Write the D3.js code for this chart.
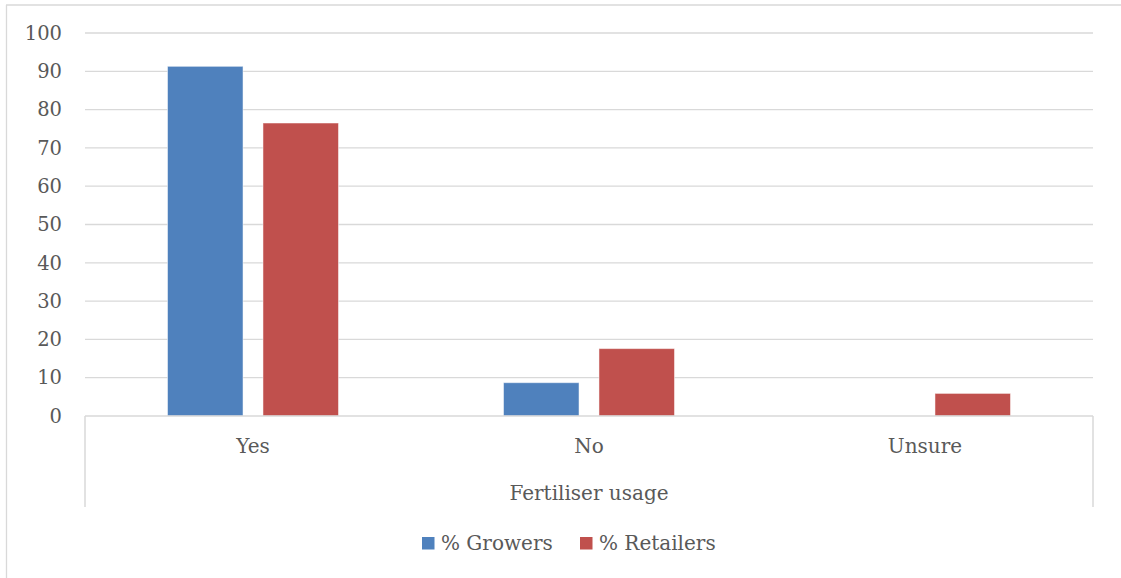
<!DOCTYPE html>
<html>
<head>
<meta charset="utf-8">
<script src="https://cdn.jsdelivr.net/npm/d3@7/dist/d3.min.js"></script>
<style>
  html, body { margin: 0; padding: 0; background: #fff; }
  svg { display: block; }
  text { font-family: "DejaVu Serif", serif; fill: #595959; }
</style>
</head>
<body>
<svg id="chart" width="1121" height="578"></svg>
<script>
// Fertiliser usage survey responses (percent)
const categories = ["Yes", "No", "Unsure"];
const seriesNames = ["% Growers", "% Retailers"];
const growers = [91.3, 8.7, 0];
const retailers = [76.5, 17.6, 5.9];
const yTicks = [0, 10, 20, 30, 40, 50, 60, 70, 80, 90, 100];
const axisTitle = "Fertiliser usage";
const colors = ["#4F81BD", "#C0504D"];

const FONT = "20px";
const TICK_FONT = "19.5px";
const svg = d3.select("#chart");
const W = 1121, H = 578;
const margin = { left: 85, right: 28, top: 33, bottom: 162 };
const plotW = W - margin.left - margin.right;   // 1008
const plotH = H - margin.top - margin.bottom;   // 383

// chart area frame (top and left edges fall inside the page)
const frameCol = "#D9D9D9";
svg.append("line").attr("x1", 6).attr("x2", W).attr("y1", 5).attr("y2", 5)
  .attr("stroke", frameCol).attr("stroke-width", 1.3);
svg.append("line").attr("x1", 6.5).attr("x2", 6.5).attr("y1", 5).attr("y2", H)
  .attr("stroke", frameCol).attr("stroke-width", 1.3);

const g = svg.append("g").attr("transform", `translate(${margin.left},${margin.top})`);

const x0 = d3.scaleBand().domain(categories).range([0, plotW]).paddingInner(0).paddingOuter(0);
const x1 = d3.scaleBand().domain(seriesNames).range([0, x0.bandwidth()])
  .paddingInner(0.209).paddingOuter(0.864);
const y = d3.scaleLinear().domain([0, 100]).range([plotH, 0]);

// horizontal gridlines
g.append("g").selectAll("line").data(yTicks.filter(t => t > 0)).join("line")
  .attr("x1", 0).attr("x2", plotW)
  .attr("y1", d => y(d)).attr("y2", d => y(d))
  .attr("stroke", "#D9D9D9").attr("stroke-width", 1.3);

// y axis labels
const yAxis = d3.axisLeft(y).tickValues(yTicks).tickSize(0).tickPadding(23);
const ya = g.append("g").call(yAxis);
ya.select(".domain").remove();
ya.selectAll("text").style("font-size", TICK_FONT).attr("fill", "#595959")
  .style("font-family", "\"DejaVu Serif\", serif");

// bars
const rows = categories.map((c, i) => ({ cat: c, vals: [growers[i], retailers[i]] }));
const grp = g.append("g").selectAll("g").data(rows).join("g")
  .attr("transform", d => `translate(${x0(d.cat)},0)`);
grp.selectAll("rect").data(d => d.vals.map((v, j) => ({ name: seriesNames[j], v, j }))).join("rect")
  .filter(d => d.v > 0)
  .attr("x", d => x1(d.name))
  .attr("width", x1.bandwidth())
  .attr("y", d => y(d.v))
  .attr("height", d => y(0) - y(d.v))
  .attr("fill", d => colors[d.j])
  .attr("stroke", "rgba(255,255,255,0.5)").attr("stroke-width", 1);

// category axis: baseline and outer frame of the category table
const axisCol = "#D9D9D9";
g.append("line").attr("x1", 0).attr("x2", plotW).attr("y1", plotH).attr("y2", plotH)
  .attr("stroke", axisCol).attr("stroke-width", 1.5);
[0, plotW].forEach(xx => {
  g.append("line").attr("x1", xx).attr("x2", xx).attr("y1", plotH).attr("y2", plotH + 91)
    .attr("stroke", axisCol).attr("stroke-width", 1.5);
});

// category labels
g.append("g").selectAll("text").data(categories).join("text")
  .attr("x", d => x0(d) + x0.bandwidth() / 2)
  .attr("y", plotH + 37)
  .attr("text-anchor", "middle")
  .style("font-size", FONT)
  .text(d => d);

// axis title
g.append("text")
  .attr("x", plotW / 2).attr("y", plotH + 84)
  .attr("text-anchor", "middle")
  .style("font-size", FONT)
  .text(axisTitle);

// legend
const legend = svg.append("g").attr("transform", "translate(422,537)");
const legendX = [0, 158];
seriesNames.forEach((s, i) => {
  const lg = legend.append("g").attr("transform", `translate(${legendX[i]},0)`);
  lg.append("rect").attr("width", 12.5).attr("height", 12.5).attr("fill", colors[i]);
  lg.append("text").attr("x", 19).attr("y", 13).style("font-size", FONT).text(s);
});
</script>
</body>
</html>
